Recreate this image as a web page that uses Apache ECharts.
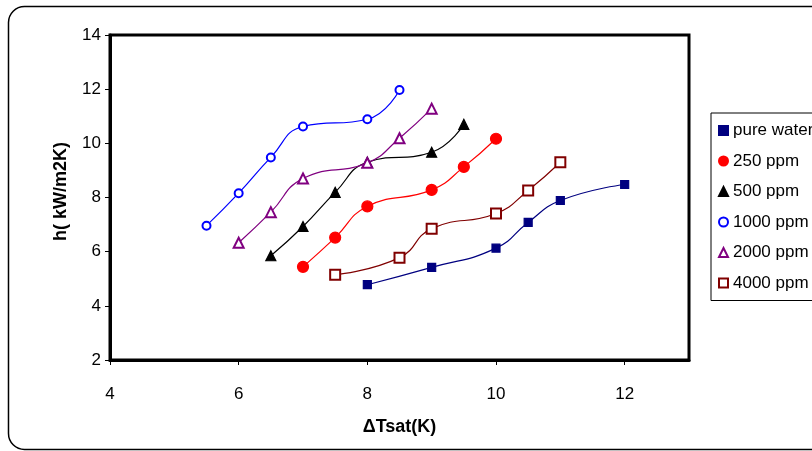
<!DOCTYPE html>
<html>
<head>
<meta charset="utf-8">
<script src="https://cdn.jsdelivr.net/npm/echarts@6/dist/echarts.min.js"></script>
<style>html,body{margin:0;padding:0;background:#fff}#c{width:812px;height:451px}</style>
</head>
<body>
<div id="c"></div>
<script>
const seriesNames = ['pure water', '250 ppm', '500 ppm', '1000 ppm', '2000 ppm', '4000 ppm'];
const pureWater = [[8, 4.78], [9, 5.42], [10, 6.13], [10.5, 7.08], [11, 7.89], [12, 8.48]];
const ppm250 = [[7, 5.44], [7.5, 6.52], [8, 7.67], [9, 8.28], [9.5, 9.13], [10, 10.17]];
const ppm500 = [[6.5, 5.85], [7, 6.93], [7.5, 8.19], [8, 9.3], [9, 9.67], [9.5, 10.7]];
const ppm1000 = [[5.5, 6.96], [6, 8.16], [6.5, 9.48], [7, 10.62], [8, 10.89], [8.5, 11.97]];
const ppm2000 = [[6, 6.33], [6.5, 7.46], [7, 8.7], [8, 9.28], [8.5, 10.19], [9, 11.28]];
const ppm4000 = [[7.5, 5.15], [8.5, 5.78], [9, 6.85], [10, 7.41], [10.5, 8.26], [11, 9.3]];
const xTicks = [4, 6, 8, 10, 12];
const yTicks = [2, 4, 6, 8, 10, 12, 14];

const colors = ['#000080', '#FF0000', '#000000', '#0000FF', '#800080', '#800000'];
const symbols = ['rect', 'circle', 'triangle', 'emptyCircle', 'emptyTriangle', 'emptyRect'];
const sizes = [8, 11, 10, 8, 10, 10];
const datasets = [pureWater, ppm250, ppm500, ppm1000, ppm2000, ppm4000];

const font = 'Liberation Sans, Arial, sans-serif';
const chart = echarts.init(document.getElementById('c'), null, {renderer: 'canvas'});

const series = datasets.map((d, i) => ({
  name: seriesNames[i],
  type: 'line',
  data: d,
  smooth: 0.5,
  symbol: symbols[i],
  symbolSize: sizes[i],
  showAllSymbol: true,
  lineStyle: {color: colors[i], width: 1.2},
  itemStyle: {color: colors[i], borderColor: colors[i], borderWidth: 1.2},
  emphasis: {disabled: true},
  z: 3
}));

chart.setOption({
  animation: false,
  backgroundColor: '#fff',
  textStyle: {fontFamily: font},
  graphic: [{
    type: 'rect',
    shape: {x: 8.5, y: 6.5, width: 830, height: 443, r: 16},
    style: {fill: 'none', stroke: '#000', lineWidth: 1.5},
    silent: true, z: -1
  }],
  grid: {
    left: 110, top: 35, right: 123, bottom: 91,
    show: true, borderColor: '#000', borderWidth: 3, backgroundColor: '#fff'
  },
  legend: {
    orient: 'vertical',
    left: 711, top: 113,
    padding: [9, 60, 9, 7],
    itemGap: 13.5,
    itemWidth: 9, itemHeight: 9,
    backgroundColor: '#fff',
    borderColor: '#000', borderWidth: 1,
    textStyle: {fontFamily: font, fontSize: 17, color: '#000', padding: [0, 0, 0, 0]},
    data: seriesNames.map((n, i) => ({name: n, icon: symbols[i]})),
    selectedMode: false
  },
  xAxis: {
    type: 'value', min: 4, max: 13, interval: 2,
    name: 'ΔTsat(K)', nameLocation: 'middle', nameGap: 58,
    nameTextStyle: {fontFamily: font, fontSize: 18, fontWeight: 'bold', color: '#000'},
    axisLine: {show: true, lineStyle: {color: '#000', width: 3}},
    axisTick: {show: true, length: 5, lineStyle: {color: '#000', width: 1}, customValues: xTicks},
    axisLabel: {fontFamily: font, fontSize: 17, color: '#000', margin: 26, customValues: xTicks},
    splitLine: {show: false}
  },
  yAxis: {
    type: 'value', min: 2, max: 14, interval: 2,
    name: 'h( kW/m2K)', nameLocation: 'middle', nameGap: 40, nameRotate: 90,
    nameTextStyle: {fontFamily: font, fontSize: 18, fontWeight: 'bold', color: '#000', padding: [0, 0, 0, 12]},
    axisLine: {show: true, lineStyle: {color: '#000', width: 3}},
    axisTick: {show: true, length: 5, lineStyle: {color: '#000', width: 1}, customValues: yTicks},
    axisLabel: {fontFamily: font, fontSize: 17, color: '#000', margin: 9, customValues: yTicks},
    splitLine: {show: false}
  },
  series: series
});
</script>
</body>
</html>
